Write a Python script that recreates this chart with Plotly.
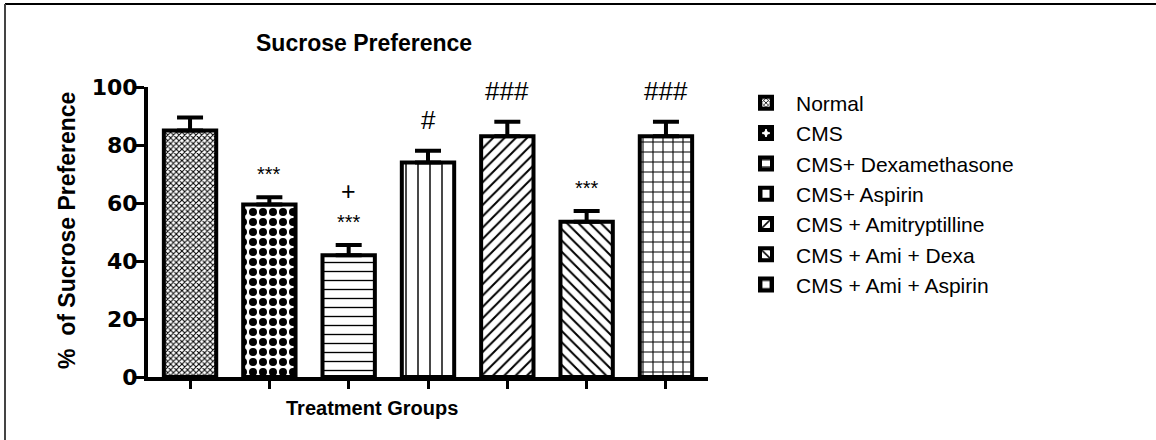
import plotly.graph_objects as go

groups = ["Normal", "CMS", "CMS+ Dexamethasone", "CMS+ Aspirin",
          "CMS + Amitryptilline", "CMS + Ami + Dexa", "CMS + Ami + Aspirin"]
means = [85, 59.5, 42, 74, 83, 53.5, 83]
sem = [4.5, 2.5, 3.5, 4.0, 5.0, 3.7, 5.0]
sig_star = ["", "***", "***", "", "", "***", ""]
sig_hash = ["", "", "", "#", "###", "", "###"]
sig_plus = ["", "", "+", "", "", "", ""]
yticks = [0, 20, 40, 60, 80, 100]

patterns = [
    dict(shape="x", size=4, solidity=0.45),
    dict(shape=".", size=10, solidity=0.5),
    dict(shape="-", size=9, solidity=0.15),
    dict(shape="|", size=12, solidity=0.12),
    dict(shape="/", size=8, solidity=0.25),
    dict(shape="\\", size=8, solidity=0.25),
    dict(shape="+", size=10, solidity=0.2),
]

FONT = "Liberation Sans, Arial, sans-serif"
TICKFONT = "DejaVu Sans, Liberation Sans, sans-serif"
fig = go.Figure()
for i, g in enumerate(groups):
    p = patterns[i]
    fig.add_trace(go.Bar(
        x=[i], y=[means[i]], name=g, width=0.66,
        marker=dict(color="white", line=dict(color="black", width=4),
                    pattern=dict(shape=p["shape"], size=p["size"], solidity=p["solidity"],
                                 fgcolor="black", bgcolor="white", fillmode="replace")),
        error_y=dict(type="data", symmetric=False, array=[sem[i]], arrayminus=[0],
                     color="black", thickness=4, width=13),
    ))

ann = []
for i in range(len(groups)):
    top = means[i] + sem[i]
    if sig_star[i]:
        ann.append(dict(x=i, y=top + 8, text=sig_star[i], showarrow=False,
                        font=dict(size=20, color="black", family=FONT), yanchor="middle"))
    if sig_plus[i]:
        ann.append(dict(x=i, y=top + 18.5, text=sig_plus[i], showarrow=False,
                        font=dict(size=25, color="black", family=FONT), yanchor="middle"))
    if sig_hash[i]:
        ann.append(dict(x=i, y=top + 10.5, text=sig_hash[i], showarrow=False,
                        font=dict(size=26, color="black", family=FONT), yanchor="middle"))

ann.append(dict(xref="paper", yref="paper", x=(364 - 148) / 560, y=(377 - 43) / 290,
                xanchor="center", yanchor="middle",
                text="<b>Sucrose Preference</b>", showarrow=False,
                font=dict(size=23, color="black", family=FONT)))
ann.append(dict(xref="paper", yref="paper", x=(372 - 148) / 560, y=(377 - 408) / 290,
                xanchor="center", yanchor="middle",
                text="<b>Treatment Groups</b>", showarrow=False,
                font=dict(size=20, color="black", family=FONT)))
ann.append(dict(xref="paper", yref="paper", x=(67 - 148) / 560, y=(377 - 230) / 290,
                xanchor="center", yanchor="middle",
                text="<b>%  of Sucrose Preference</b>", showarrow=False, textangle=-90,
                font=dict(size=23, color="black", family=FONT)))

fig.update_layout(
    width=1156, height=440,
    margin=dict(l=148, r=448, t=87, b=63),
    paper_bgcolor="white", plot_bgcolor="white",
    barmode="overlay", showlegend=True,
    font=dict(family=FONT, color="black"),
    legend=dict(x=1.05, y=1.015, xanchor="left", yanchor="top",
                font=dict(size=21, color="black", family=FONT),
                itemwidth=50, maxheight=400,
                bgcolor="rgba(0,0,0,0)"),
    annotations=ann,
    xaxis=dict(range=[-0.53, 6.53], showgrid=False, zeroline=False,
               showline=True, linecolor="black", linewidth=4,
               ticks="outside", ticklen=8, tickwidth=3, tickcolor="black",
               tickvals=list(range(len(groups))), showticklabels=False),
    yaxis=dict(range=[0, 100], showgrid=False, zeroline=False,
               showline=True, linecolor="black", linewidth=4,
               ticks="outside", ticklen=8, tickwidth=3, tickcolor="black",
               ticklabelstandoff=-6,
               tickvals=yticks, ticktext=[f"<b>{v}</b>" for v in yticks],
               tickfont=dict(size=22, color="black", family=TICKFONT)),
    shapes=[
        dict(type="line", xref="paper", yref="paper", x0=(5 - 148) / 560, x1=(1156 - 148) / 560,
             y0=(377 - 4) / 290, y1=(377 - 4) / 290, line=dict(color="black", width=2)),
        dict(type="line", xref="paper", yref="paper", x0=(5 - 148) / 560, x1=(5 - 148) / 560,
             y0=(377 - 4) / 290, y1=(377 - 440) / 290, line=dict(color="#444", width=2)),
    ],
)
fig.write_html("out.html")
